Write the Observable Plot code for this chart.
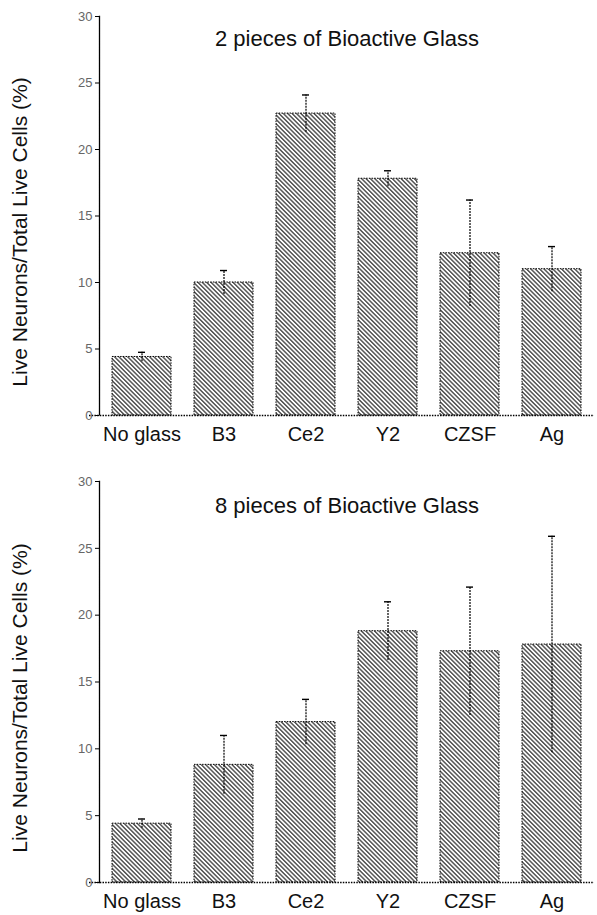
<!DOCTYPE html>
<html>
<head>
<meta charset="utf-8">
<script src="https://cdn.jsdelivr.net/npm/d3@7"></script>
<script src="https://cdn.jsdelivr.net/npm/@observablehq/plot@0.6"></script>
<style>
  body { margin: 0; background: #fff; }
  #charts { width: 597px; }
  #charts svg { display: block; }
</style>
</head>
<body>
<!-- shared hatch fill for the bars -->
<svg width="0" height="0" style="position:absolute">
  <defs>
    <pattern id="hatch" patternUnits="userSpaceOnUse" width="3.1" height="3.1" patternTransform="rotate(45)">
      <rect width="3.1" height="3.1" fill="#fff"/>
      <line x1="0" y1="0.8" x2="3.1" y2="0.8" stroke="#333" stroke-width="1.25"/>
    </pattern>
  </defs>
</svg>
<div id="charts"></div>
<script>
// Glass types on the x axis
const categories = ["No glass", "B3", "Ce2", "Y2", "CZSF", "Ag"];

// Live neurons as a share of all live cells (%), mean and error, 2 pieces of glass
const twoMeans = [4.4, 10.0, 22.7, 17.8, 12.2, 11.0];
const twoErrors = [0.35, 0.9, 1.4, 0.6, 4.0, 1.7];

// Same measure with 8 pieces of glass
const eightMeans = [4.4, 8.8, 12.0, 18.8, 17.3, 17.8];
const eightErrors = [0.35, 2.2, 1.7, 2.2, 4.8, 8.1];

const yTicks = [0, 5, 10, 15, 20, 25, 30];
const yLabel = "Live Neurons/Total Live Cells (%)";
const titles = ["2 pieces of Bioactive Glass", "8 pieces of Bioactive Glass"];

const font = "'Liberation Sans', Arial, sans-serif";
const dotted = "1.5,1.2";

function panel(title, means, errors, marginTop, marginBottom, titleOffset) {
  const rows = categories.map((c, i) => ({cat: c, v: means[i], e: errors[i]}));
  return Plot.plot({
    width: 597,
    height: 457,
    marginLeft: 99,
    marginRight: 3,
    marginTop,
    marginBottom,
    style: {fontFamily: font, color: "#000", background: "#fff"},
    x: {domain: categories, paddingInner: 0.28, paddingOuter: 0.14},
    y: {domain: [0, 30]},
    marks: [
      Plot.barY(rows, {
        x: "cat", y: "v",
        fill: "url(#hatch)", stroke: "#000", strokeWidth: 1, strokeDasharray: dotted
      }),
      Plot.ruleX(rows, {
        x: "cat", y1: d => d.v - d.e, y2: d => d.v + d.e,
        stroke: "#000", strokeWidth: 1.2, strokeDasharray: "2,1"
      }),
      Plot.tickY(rows, {
        x: "cat", y: d => d.v + d.e,
        insetLeft: 26, insetRight: 26, stroke: "#000", strokeWidth: 1.4
      }),
      Plot.ruleY([0], {stroke: "#000", strokeWidth: 1.3, strokeDasharray: dotted, insetLeft: -10}),
      Plot.frame({anchor: "left", stroke: "#000", strokeWidth: 1.3, strokeDasharray: dotted}),
      Plot.axisY({
        ticks: yTicks, tickSize: 4, tickPadding: 3, fontSize: 13,
        fill: "#666", stroke: "#000", label: null
      }),
      Plot.axisX({tickSize: 0, tickPadding: 11, fontSize: 20, fill: "#111", label: null}),
      Plot.text([yLabel], {
        frameAnchor: "left", textAnchor: "middle", rotate: -90, dx: -79, dy: 16,
        fontSize: 21, fill: "#111"
      }),
      Plot.text([title], {frameAnchor: "top", dy: titleOffset, fontSize: 22, fill: "#111"})
    ]
  });
}

const root = document.getElementById("charts");
root.append(panel(titles[0], twoMeans, twoErrors, 16, 42, 14));
root.append(panel(titles[1], eightMeans, eightErrors, 24, 32, 16));
</script>
</body>
</html>
